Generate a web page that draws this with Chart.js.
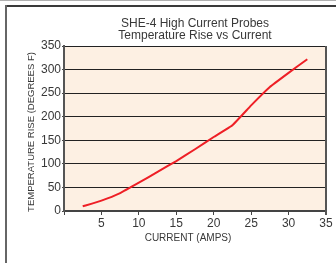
<!DOCTYPE html>
<html>
<head>
<meta charset="utf-8">
<script src="https://cdn.jsdelivr.net/npm/chart.js@4"></script>
<style>
  html, body { margin: 0; padding: 0; background: #fff; }
  #wrap { position: relative; width: 336px; height: 263px; }
</style>
</head>
<body>
<div id="wrap"><canvas id="chart" width="336" height="263"></canvas></div>
<script>
// Temperature rise (deg F) at each current (amps)
const currentAmps = [2.5, 5, 7.5, 10, 12.5, 15, 17.5, 20, 22.5, 25, 27.5, 30, 32.5];
const tempRise = [10, 22, 38, 60, 83, 106, 131, 157, 182, 224, 263, 293, 322];

const titleLines = ['SHE-4 High Current Probes', 'Temperature Rise vs Current'];
const xTitle = 'CURRENT (AMPS)';
const yTitle = 'TEMPERATURE RISE (DEGREES F)';

const textColor = '#383838';
const fontFamily = '"Liberation Sans", Arial, Helvetica, sans-serif';

// Frame, plot background and hand-placed titles
const decorPlugin = {
    id: 'decor',
    beforeDraw(chart) {
        const ctx = chart.ctx;
        const a = chart.chartArea;
        ctx.save();
        // outer page frame
        ctx.fillStyle = '#b0b0b0';
        ctx.fillRect(0, 0, chart.width, 1);
        ctx.fillStyle = '#3a3a3a';
        ctx.fillRect(5, 5, chart.width - 5, 2);
        ctx.fillStyle = '#666';
        ctx.fillRect(5, 5, 2, chart.height - 5);
        // plot background
        ctx.fillStyle = '#fdf0e3';
        ctx.fillRect(a.left, a.top, a.right - a.left, a.bottom - a.top);
        ctx.restore();
    },
    afterDraw(chart) {
        const ctx = chart.ctx;
        const a = chart.chartArea;
        ctx.save();
        // right-hand border of the plot
        ctx.strokeStyle = '#555';
        ctx.lineWidth = 2;
        ctx.beginPath();
        ctx.moveTo(a.right, a.top);
        ctx.lineTo(a.right, a.bottom + 4);
        ctx.stroke();

        ctx.fillStyle = textColor;
        ctx.textAlign = 'center';
        ctx.textBaseline = 'middle';
        ctx.font = '12px ' + fontFamily;
        const cx = (a.left + a.right) / 2;
        ctx.fillText(titleLines[0], cx, 24);
        ctx.fillText(titleLines[1], cx, 36);

        ctx.font = '10px ' + fontFamily;
        ctx.fillText(xTitle, 188, 238);

        ctx.font = '9.5px ' + fontFamily;
        ctx.translate(31, 132);
        ctx.rotate(-Math.PI / 2);
        ctx.fillText(yTitle, 0, 0);
        ctx.restore();
    }
};

new Chart(document.getElementById('chart'), {
    type: 'scatter',
    data: {
        datasets: [{
            data: currentAmps.map((x, i) => ({ x: x, y: tempRise[i] })),
            showLine: true,
            borderColor: '#ee1f26',
            borderWidth: 2,
            pointRadius: 0,
            tension: 0.1,
            fill: false
        }]
    },
    options: {
        responsive: false,
        animation: false,
        layout: { padding: { top: 46, right: 10, left: 0, bottom: 0 } },
        plugins: {
            legend: { display: false },
            tooltip: { enabled: false }
        },
        scales: {
            x: {
                type: 'linear',
                min: 0,
                max: 35,
                afterFit(scale) { scale.height = 52; },
                ticks: {
                    stepSize: 5,
                    color: textColor,
                    padding: 1,
                    font: { family: fontFamily, size: 12 },
                    callback: v => (v === 0 ? '' : v)
                },
                grid: {
                    drawOnChartArea: false,
                    drawTicks: true,
                    tickLength: 4,
                    tickColor: '#444'
                },
                border: { color: '#444', width: 2 }
            },
            y: {
                min: 0,
                max: 350,
                afterFit(scale) { scale.width = 64; },
                ticks: {
                    stepSize: 50,
                    color: textColor,
                    padding: 1,
                    font: { family: fontFamily, size: 12 }
                },
                grid: {
                    color: '#222',
                    lineWidth: 1,
                    drawTicks: true,
                    tickLength: 2,
                    tickColor: '#444'
                },
                border: { color: '#555', width: 2 }
            }
        }
    },
    plugins: [decorPlugin]
});
</script>
</body>
</html>
